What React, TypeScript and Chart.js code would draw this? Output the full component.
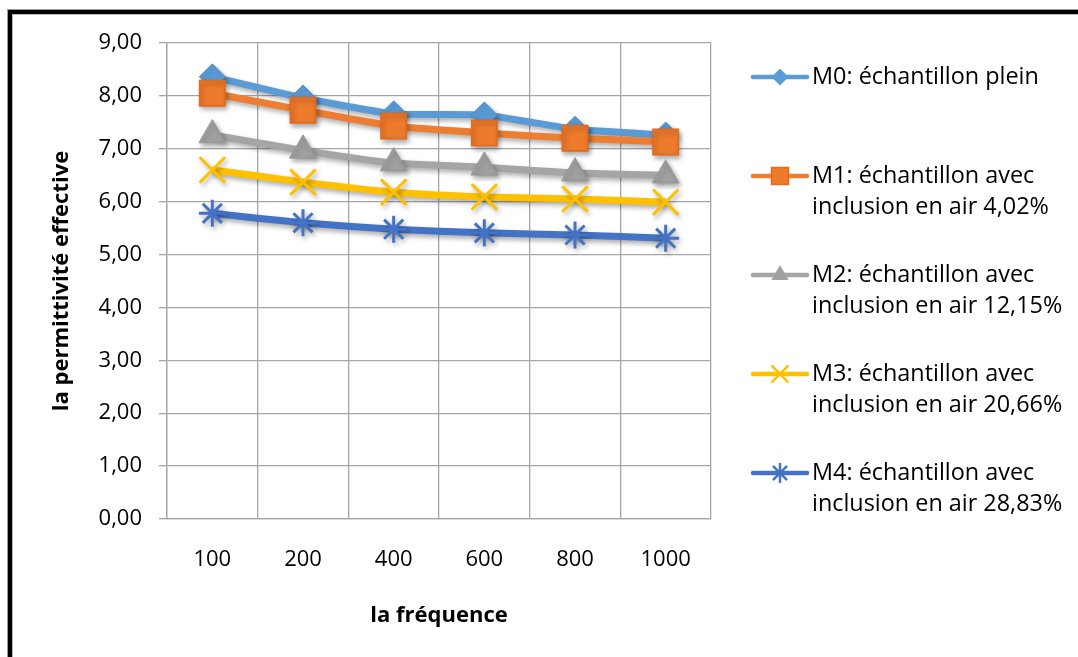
import React, { useEffect, useRef } from 'react';
import { Chart, registerables } from 'chart.js';

Chart.register(...registerables);

const frequencies = ['100', '200', '400', '600', '800', '1000'];
const m0Values = [8.36, 7.96, 7.66, 7.64, 7.37, 7.26];
const m1Values = [8.05, 7.73, 7.43, 7.3, 7.2, 7.13];
const m2Values = [7.26, 6.97, 6.73, 6.65, 6.54, 6.5];
const m3Values = [6.6, 6.37, 6.18, 6.09, 6.05, 5.99];
const m4Values = [5.78, 5.6, 5.48, 5.41, 5.37, 5.31];

const seriesLabels = [
  ['M0: échantillon plein'],
  ['M1: échantillon avec', 'inclusion en air 4,02%'],
  ['M2: échantillon avec', 'inclusion en air 12,15%'],
  ['M3: échantillon avec', 'inclusion en air 20,66%'],
  ['M4: échantillon avec', 'inclusion en air 28,83%'],
];
const xTitle = 'la fréquence';
const yTitle = 'la permittivité effective';
const yMin = 0;
const yMax = 9;
const yStep = 1;

const FONT = "'Open Sans', 'Liberation Sans', sans-serif";

const seriesStyles = [
  { color: '#5B9BD5', fill: '#5B9BD5', border: '#4f8fca', point: 'rectRot', radius: 13, bw: 1, legendR: 8.5 },
  { color: '#ED7D31', fill: '#EE7A2C', border: '#e06b1c', point: 'rect', radius: 18, bw: 1.5, legendR: 12 },
  { color: '#A5A5A5', fill: '#A0A0A0', border: '#999999', point: 'triangle', radius: 15.5, bw: 1, legendR: 10 },
  { color: '#FFC000', fill: 'rgba(0,0,0,0)', border: '#FFC000', point: 'crossRot', radius: 18, bw: 3, legendR: 11 },
  { color: '#4472C4', fill: 'rgba(0,0,0,0)', border: '#4472C4', point: 'star', radius: 13.5, bw: 3, legendR: 9 },
];

const seriesValues = [m0Values, m1Values, m2Values, m3Values, m4Values];

const shadowPlugin = {
  id: 'markerShadow',
  beforeDatasetsDraw(chart: any) {
    const c = chart.ctx;
    c.save();
    c.shadowColor = 'rgba(0,0,0,0.33)';
    c.shadowBlur = 5;
    c.shadowOffsetX = 2;
    c.shadowOffsetY = 3;
  },
  afterDatasetsDraw(chart: any) {
    chart.ctx.restore();
  },
};

function drawMarker(ctx: CanvasRenderingContext2D, style: string, x: number, y: number, r: number, fill: string, stroke: string, bw: number) {
  ctx.save();
  ctx.fillStyle = fill;
  ctx.strokeStyle = stroke;
  ctx.lineWidth = bw;
  ctx.beginPath();
  if (style === 'rectRot') {
    ctx.moveTo(x, y - r);
    ctx.lineTo(x + r, y);
    ctx.lineTo(x, y + r);
    ctx.lineTo(x - r, y);
    ctx.closePath();
    ctx.fill();
  } else if (style === 'rect') {
    const s = r * Math.SQRT1_2;
    ctx.rect(x - s, y - s, 2 * s, 2 * s);
    ctx.fill();
    ctx.stroke();
  } else if (style === 'triangle') {
    ctx.moveTo(x, y - r);
    ctx.lineTo(x + r * 0.866, y + r * 0.5);
    ctx.lineTo(x - r * 0.866, y + r * 0.5);
    ctx.closePath();
    ctx.fill();
  } else if (style === 'crossRot') {
    const d = r * Math.SQRT1_2;
    ctx.moveTo(x - d, y - d);
    ctx.lineTo(x + d, y + d);
    ctx.moveTo(x + d, y - d);
    ctx.lineTo(x - d, y + d);
    ctx.stroke();
  } else if (style === 'star') {
    const d = r * Math.SQRT1_2;
    ctx.moveTo(x - d, y - d);
    ctx.lineTo(x + d, y + d);
    ctx.moveTo(x + d, y - d);
    ctx.lineTo(x - d, y + d);
    ctx.moveTo(x, y - r);
    ctx.lineTo(x, y + r);
    ctx.stroke();
  }
  ctx.restore();
}

const sideLegendPlugin = {
  id: 'sideLegend',
  afterDraw(chart: any) {
    const ctx: CanvasRenderingContext2D = chart.ctx;
    const area = chart.chartArea;
    const lineStart = area.right + 42;
    const lineEnd = lineStart + 54;
    const textX = lineEnd + 5;
    const firstY = 77;
    const itemGap = 99;
    const lineH = 31;
    ctx.save();
    ctx.font = `23.4px ${FONT}`;
    ctx.textBaseline = 'middle';
    ctx.textAlign = 'left';
    seriesLabels.forEach((lines, i) => {
      const st = seriesStyles[i];
      const y = firstY + i * itemGap;
      ctx.strokeStyle = st.color;
      ctx.lineWidth = 4.5;
      ctx.lineCap = 'round';
      ctx.beginPath();
      ctx.moveTo(lineStart, y);
      ctx.lineTo(lineEnd, y);
      ctx.stroke();
      drawMarker(ctx, st.point, (lineStart + lineEnd) / 2, y, st.legendR, st.fill, st.border, st.bw === 3 ? 2.5 : st.bw);
      ctx.fillStyle = '#000';
      lines.forEach((t, j) => ctx.fillText(t, textX, y + j * lineH));
    });
    ctx.restore();
  },
};

export default function App() {
  const canvasRef = useRef<HTMLCanvasElement | null>(null);

  useEffect(() => {
    if (!canvasRef.current) return;
    const datasets = seriesValues.map((vals, i) => {
      const st = seriesStyles[i];
      return {
        label: seriesLabels[i].join(' '),
        data: vals,
        borderColor: st.color,
        backgroundColor: st.color,
        borderWidth: 7,
        tension: 0.15,
        fill: false,
        pointStyle: st.point as any,
        pointRadius: st.radius,
        pointHoverRadius: st.radius,
        pointBackgroundColor: st.fill,
        pointBorderColor: st.border,
        pointBorderWidth: st.bw,
        order: seriesValues.length - 1 - i,
      };
    });

    const chart = new Chart(canvasRef.current, {
      type: 'line',
      data: { labels: frequencies, datasets },
      options: {
        animation: false,
        responsive: false,
        layout: { padding: { left: 0, top: 43, right: 367, bottom: 0 } },
        plugins: {
          legend: { display: false },
          tooltip: { enabled: false },
        },
        scales: {
          x: {
            offset: true,
            grid: { offset: true, drawTicks: false, color: '#a6a6a6', lineWidth: 1.3 },
            border: { color: '#a6a6a6', width: 1.3 },
            ticks: { color: '#000', font: { family: FONT, size: 22 }, padding: 28 },
            title: {
              display: true,
              text: xTitle,
              color: '#000',
              font: { family: FONT, size: 22, weight: 'bold' },
              padding: { top: 0, bottom: 28 },
            },
            afterFit: (scale: any) => {
              scale.height = 138;
            },
          },
          y: {
            min: yMin,
            max: yMax,
            grid: { color: '#a6a6a6', lineWidth: 1.3, tickLength: 8 },
            border: { color: '#a6a6a6', width: 1.3 },
            ticks: {
              stepSize: yStep,
              color: '#000',
              font: { family: FONT, size: 22 },
              padding: 17,
              callback: (v: any) => Number(v).toFixed(2).replace('.', ','),
            },
            title: {
              display: true,
              text: yTitle,
              color: '#000',
              font: { family: FONT, size: 22, weight: 'bold' },
              padding: { top: 49, bottom: 0 },
            },
            afterFit: (scale: any) => {
              scale.width = 167;
            },
          },
        },
      },
      plugins: [shadowPlugin, sideLegendPlugin],
    });
    return () => chart.destroy();
  }, []);

  return (
    <div style={{ position: 'fixed', left: 0, top: 0, width: 1078, height: 657, overflow: 'hidden', background: '#fff' }}>
      <canvas ref={canvasRef} width={1078} height={657} style={{ display: 'block' }} />
      <div
        style={{
          position: 'absolute',
          left: 8,
          top: 10,
          width: 1300,
          height: 900,
          border: '4px solid #000',
          boxShadow: '0 0 0 1px #9a9a9a, inset 0 0 0 1px #bdbdbd',
          pointerEvents: 'none',
        }}
      />
    </div>
  );
}
